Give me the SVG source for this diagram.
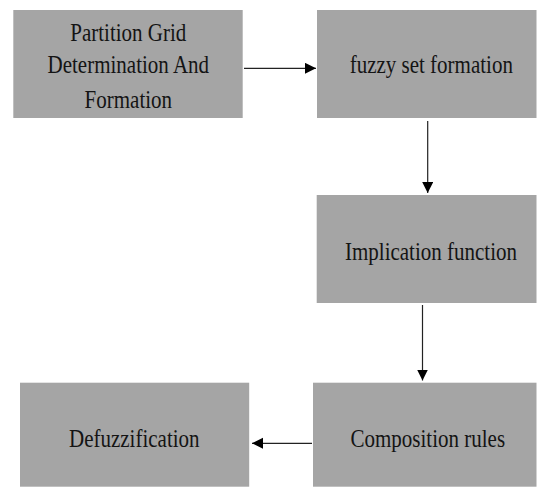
<svg xmlns="http://www.w3.org/2000/svg" width="537" height="487" viewBox="0 0 537 487">
<style>
.box{fill:#a5a5a5;}
.lbl{font-family:"Liberation Serif","Times New Roman","DejaVu Serif",serif;font-size:21px;fill:#141414;text-anchor:middle;}
.edge{stroke:#222;stroke-width:1.2;fill:none;}
</style>
<defs>
<marker id="ah" markerUnits="userSpaceOnUse" markerWidth="12" markerHeight="12" refX="11" refY="5.5" orient="auto">
<path d="M0,0 L11,5.5 L0,11 Z" fill="#000"/>
</marker>
</defs>
<rect width="537" height="487" fill="#fff"/>
<g id="n1">
<rect class="box" x="13.3" y="10" width="229.4" height="108"/>
<text class="lbl" transform="translate(128.3,41) scale(1,1.19)">Partition Grid</text>
<text class="lbl" transform="translate(128.3,73.3) scale(1,1.19)">Determination And</text>
<text class="lbl" transform="translate(128.3,107.7) scale(1,1.19)">Formation</text>
</g>
<g id="n2">
<rect class="box" x="317" y="10" width="219.5" height="108"/>
<text class="lbl" transform="translate(431.3,73.3) scale(1,1.19)">fuzzy set formation</text>
</g>
<g id="n3">
<rect class="box" x="316.7" y="195" width="219.8" height="108"/>
<text class="lbl" transform="translate(431,260) scale(1,1.19)">Implication function</text>
</g>
<g id="n4">
<rect class="box" x="313" y="382.7" width="223.5" height="104"/>
<text class="lbl" transform="translate(427.8,446.7) scale(1,1.19)">Composition rules</text>
</g>
<g id="n5">
<rect class="box" x="20" y="382.7" width="229.2" height="104"/>
<text class="lbl" transform="translate(134.3,446.7) scale(1,1.19)">Defuzzification</text>
</g>
<g id="edges">
<line class="edge" x1="244" y1="68.3" x2="316" y2="68.3" marker-end="url(#ah)"/>
<line class="edge" x1="427.7" y1="121" x2="427.7" y2="193" marker-end="url(#ah)"/>
<line class="edge" x1="422.5" y1="305" x2="422.5" y2="380.5" marker-end="url(#ah)"/>
<line class="edge" x1="312" y1="443.3" x2="252" y2="443.3" marker-end="url(#ah)"/>
</g>
</svg>
